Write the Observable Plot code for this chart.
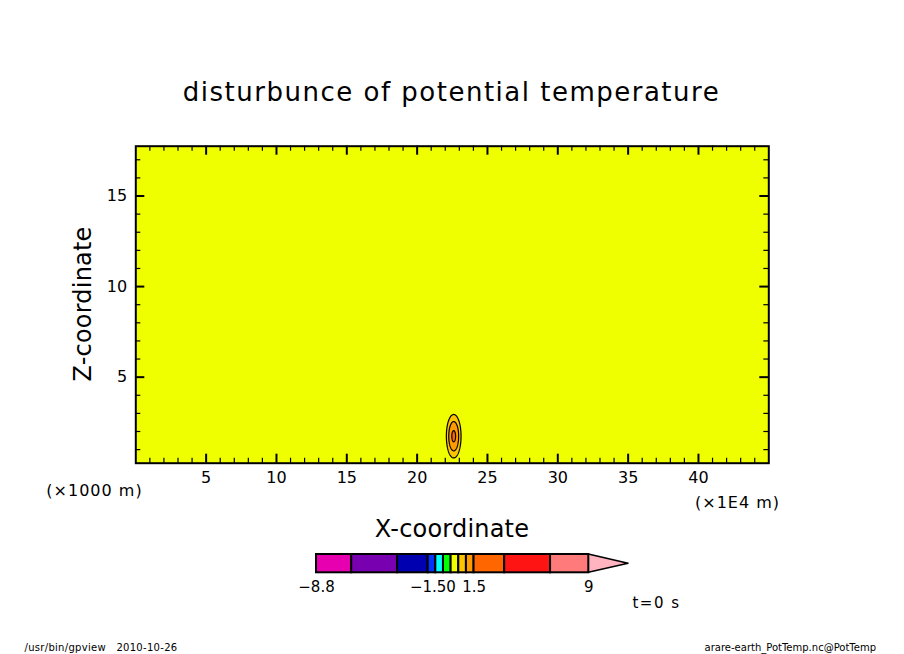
<!DOCTYPE html>
<html><head><meta charset="utf-8">
<script src="https://cdn.jsdelivr.net/npm/d3@7"></script>
<script src="https://cdn.jsdelivr.net/npm/@observablehq/plot@0.6"></script>
<style>
body{margin:0;background:#fff;}
#wrap{position:relative;width:904px;height:654px;overflow:hidden;background:#fff;font-family:"DejaVu Sans",sans-serif;color:#000;}
#wrap svg{position:absolute;left:0;top:0;}
.t{position:absolute;white-space:nowrap;line-height:1.2;transform:translate(-50%,-50%);}
</style></head><body><div id="wrap"></div>
<script>
// ---- data ----
const title = "disturbunce of potential temperature";
const xLabel = "X-coordinate";
const zLabel = "Z-coordinate";
const xUnit = "(×1E4 m)";
const zUnit = "(×1000 m)";
const xDomain = [0, 45];
const zDomain = [0.25, 17.75];
const xTickLabels = [5, 10, 15, 20, 25, 30, 35, 40];
const zTickLabels = [5, 10, 15];
const levels = [-8.8, -6.5, -3.5, -1.5, -1, -0.5, 0, 0.5, 1, 1.5, 3.5, 6.5, 9];
const levelColors = ["#e600b0", "#e600b0", "#7800b0", "#0000b0", "#0033ff", "#00ffff", "#00ff00",
                     "#f0ff00", "#ffc400", "#ff9a00", "#ff6600", "#ff1414", "#ff7a7a", "#ffb4c0"];
const levelLabels = [-8.8, -1.5, 0, 1.5, 9];
const contourLines = [0.5, 1, 1.5];
// warm bubble: centre, half-widths and peak value
const bubbleX = 22.6, bubbleZ = 1.74, bubbleRX = 0.84, bubbleRZ = 1.93, bubblePeak = 1.6;
const timeLabel = "t=0 s";
const footerLeft = "/usr/bin/gpview\u00a0\u00a0\u00a02010-10-26";
const footerRight = "arare-earth_PotTemp.nc@PotTemp";

// ---- drawing ----
const wrap = document.getElementById("wrap");
const field = (x, z) => {
  const r = Math.hypot((x - bubbleX) / bubbleRX, (z - bubbleZ) / bubbleRZ);
  return r < 1 ? bubblePeak * Math.cos(Math.PI * r / 2) ** 2 : 0;
};
const colorScale = {type: "threshold", domain: levels, range: levelColors};
const minorX = d3.range(xDomain[0] + 1, xDomain[1]).filter(d => d % 5 !== 0);
const minorZ = d3.range(1, Math.floor(zDomain[1]) + 1).filter(d => d % 5 !== 0);
const z0 = zDomain[0], z1 = zDomain[1], x0 = xDomain[0], x1 = xDomain[1];
const fmt = d => String(d).replace("-", "\u2212");

const main = Plot.plot({
  width: 904, height: 654,
  marginLeft: 135.3, marginRight: 135.7, marginTop: 145.7, marginBottom: 191.3,
  x: {domain: xDomain, axis: null},
  y: {domain: zDomain, axis: null},
  color: colorScale,
  style: {background: "transparent", fontFamily: "DejaVu Sans", overflow: "visible"},
  marks: [
    Plot.contour({x1: x0, y1: z0, x2: x1, y2: z1, fill: field, thresholds: levels, pixelSize: 0.5}),
    Plot.contour({x1: x0, y1: z0, x2: x1, y2: z1, value: field, thresholds: contourLines, pixelSize: 0.5,
                  fill: "none", stroke: "black", strokeWidth: 1.2}),
    // inward ticks, bottom & top
    Plot.ruleX(minorX, {x: d => d, y1: z0, y2: z0, insetBottom: 5, stroke: "black", strokeWidth: 1.2}),
    Plot.ruleX(xTickLabels, {x: d => d, y1: z0, y2: z0, insetBottom: 9, stroke: "black", strokeWidth: 2}),
    Plot.ruleX(minorX, {x: d => d, y1: z1, y2: z1, insetTop: 5, stroke: "black", strokeWidth: 1.2}),
    Plot.ruleX(xTickLabels, {x: d => d, y1: z1, y2: z1, insetTop: 9, stroke: "black", strokeWidth: 2}),
    // inward ticks, left & right
    Plot.ruleY(minorZ, {y: d => d, x1: x0, x2: x0, insetLeft: 5, stroke: "black", strokeWidth: 1.2}),
    Plot.ruleY(zTickLabels, {y: d => d, x1: x0, x2: x0, insetLeft: 9, stroke: "black", strokeWidth: 2}),
    Plot.ruleY(minorZ, {y: d => d, x1: x1, x2: x1, insetRight: 5, stroke: "black", strokeWidth: 1.2}),
    Plot.ruleY(zTickLabels, {y: d => d, x1: x1, x2: x1, insetRight: 9, stroke: "black", strokeWidth: 2}),
    Plot.frame({stroke: "black", strokeWidth: 2}),
    Plot.text(xTickLabels, {x: d => d, y: z0, dy: 15, text: d => fmt(d), fontSize: 16, fill: "black"}),
    Plot.text(zTickLabels, {x: x0, y: d => d, dx: -8.6, text: d => fmt(d), textAnchor: "end", fontSize: 16, fill: "black"})
  ]
});
wrap.appendChild(main);

const segs = levels.slice(0, -1).map((v, i) => ({x1: v, x2: levels[i + 1]}));
const arrowLen = 2.6;
const lastLevel = levels[levels.length - 1];
const arrow = [{x: lastLevel, y1: 0, y2: 1}, {x: lastLevel + arrowLen, y1: 0.5, y2: 0.5}];
const bar = Plot.plot({
  width: 904, height: 654,
  x: {domain: [levels[0], lastLevel], range: [316, 588.3], axis: null},
  y: {domain: [0, 1], range: [572.3, 554], axis: null},
  color: colorScale,
  style: {background: "transparent", fontFamily: "DejaVu Sans", overflow: "visible"},
  marks: [
    Plot.area(arrow, {x1: "x", y1: "y1", y2: "y2", fill: levelColors[levelColors.length - 1], stroke: "black", strokeWidth: 1.5}),
    Plot.rect(segs, {x1: "x1", x2: "x2", y1: 0, y2: 1, fill: "x1", stroke: "black", strokeWidth: 2}),
    Plot.text(levelLabels, {x: d => d, y: 0, dy: 14, text: d => fmt(d), fontSize: 15, fill: "black"})
  ]
});
wrap.appendChild(bar);

function label(text, x, y, size, extra = "") {
  const d = document.createElement("div");
  d.className = "t";
  d.textContent = text;
  d.style.cssText = `left:${x}px;top:${y}px;font-size:${size}px;${extra}`;
  wrap.appendChild(d);
  return d;
}
label(title, 451.5, 92.5, 26, "letter-spacing:1.5px;");
label(xLabel, 452, 528.5, 24, "letter-spacing:0.2px;");
label(zLabel, 83.4, 304, 24, "letter-spacing:0.2px;transform:translate(-50%,-50%) rotate(-90deg);");
label(zUnit, 94.5, 491, 16, "letter-spacing:1px;");
label(xUnit, 737.5, 503, 16, "letter-spacing:1px;");
label(timeLabel, 656.5, 603, 15, "letter-spacing:1.5px;");
label(footerLeft, 101, 648, 10, "letter-spacing:0.3px;");
label(footerRight, 876, 648, 10, "transform:translate(-100%,-50%);");
</script></body></html>
